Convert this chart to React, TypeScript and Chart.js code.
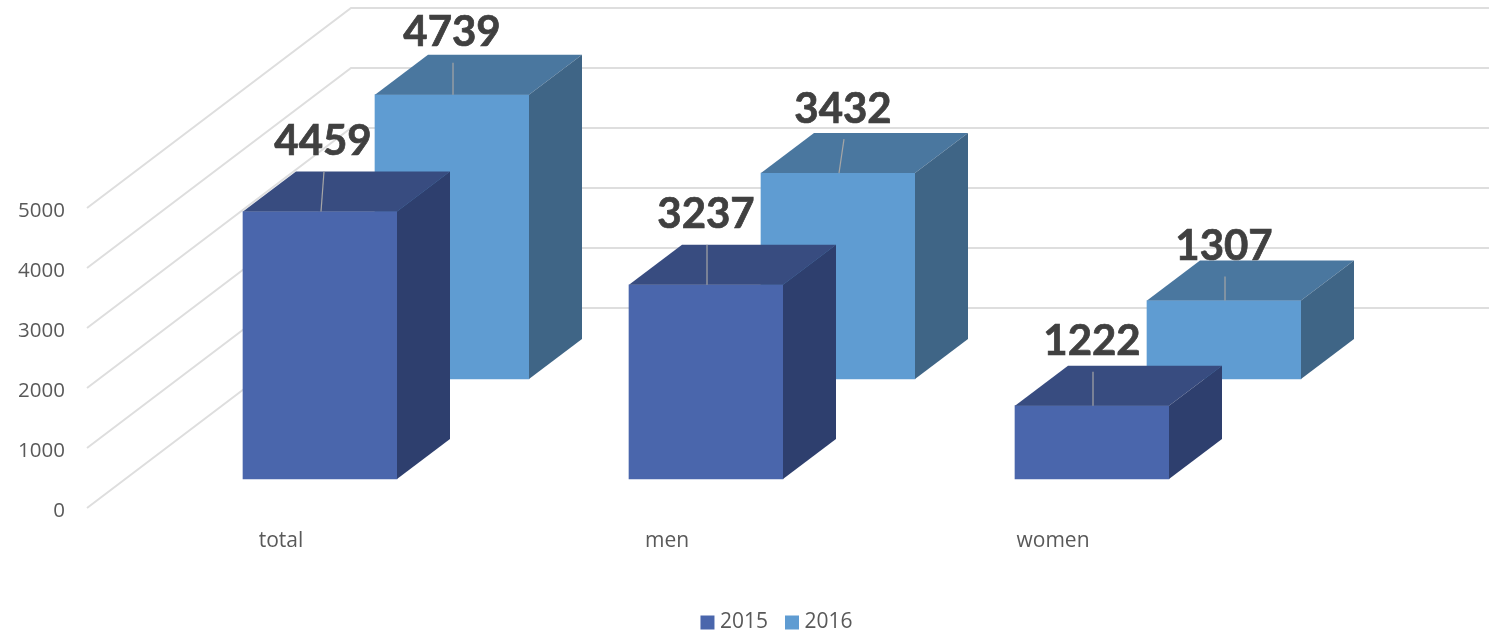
import React, { useEffect, useRef } from "react";
import { Chart, registerables } from "chart.js";

Chart.register(...registerables);

const categories = ["total", "men", "women"];
const series2015 = [4459, 3237, 1222];
const series2016 = [4739, 3432, 1307];
const yTicksMax = 5000;
const yTicksStep = 1000;

// Drawing style (not data)
const WIDTH = 1489;
const HEIGHT = 631;
const FONT_TEXT = '"Open Sans", sans-serif';
const FONT_VALUE = 'Lato, sans-serif';
const WALL = { dx: 264, dy: -200 };
const BAR_DEPTH = { dx: 53, dy: -40 };
const PLANE = [
  { dx: 39, dy: -29 },
  { dx: 171, dy: -129 },
];
const FACES = [
  { front: "#4A66AC", top: "#384C80", side: "#2E3F6E" },
  { front: "#5F9CD2", top: "#4A779F", side: "#3F6586" },
];
const LABEL_LIFT = [
  [70, 70, 64],
  [62, 64, 54],
];
const LABEL_SHIFT = [
  [3, 0, 0],
  [0, 5, 0],
];

const threeDee = {
  id: "threeDee",
  beforeDatasetsDraw(chart: any) {
    const { ctx, chartArea, scales } = chart;
    const y = scales.y;
    ctx.save();
    ctx.strokeStyle = "#DEDEDE";
    ctx.lineWidth = 2;
    y.ticks.forEach((t: any) => {
      const py = y.getPixelForValue(t.value);
      ctx.beginPath();
      ctx.moveTo(chartArea.left - 1, py);
      ctx.lineTo(chartArea.left - 1 + WALL.dx, py + WALL.dy);
      ctx.lineTo(WIDTH, py + WALL.dy);
      ctx.stroke();
    });
    ctx.restore();
  },
  beforeDatasetDraw(chart: any, args: any) {
    const p = PLANE[args.index];
    chart.ctx.save();
    chart.ctx.translate(p.dx, p.dy);
  },
  afterDatasetDraw(chart: any, args: any) {
    const { ctx } = chart;
    const f = FACES[args.index];
    args.meta.data.forEach((el: any) => {
      const l = el.x - el.width / 2;
      const r = el.x + el.width / 2;
      ctx.fillStyle = f.top;
      ctx.beginPath();
      ctx.moveTo(l, el.y);
      ctx.lineTo(l + BAR_DEPTH.dx, el.y + BAR_DEPTH.dy);
      ctx.lineTo(r + BAR_DEPTH.dx, el.y + BAR_DEPTH.dy);
      ctx.lineTo(r, el.y);
      ctx.closePath();
      ctx.fill();
      ctx.fillStyle = f.side;
      ctx.beginPath();
      ctx.moveTo(r, el.y);
      ctx.lineTo(r + BAR_DEPTH.dx, el.y + BAR_DEPTH.dy);
      ctx.lineTo(r + BAR_DEPTH.dx, el.base + BAR_DEPTH.dy);
      ctx.lineTo(r, el.base);
      ctx.closePath();
      ctx.fill();
    });
    ctx.restore();
  },
  afterDatasetsDraw(chart: any) {
    const { ctx } = chart;
    [0, 1].forEach((ds) => {
      const p = PLANE[ds];
      chart.getDatasetMeta(ds).data.forEach((el: any, i: number) => {
        const cx = el.x + p.dx;
        const topY = el.y + p.dy;
        const lx = cx + LABEL_SHIFT[ds][i];
        const ly = topY - LABEL_LIFT[ds][i];
        ctx.save();
        ctx.strokeStyle = "#A6A6A6";
        ctx.lineWidth = 1.2;
        ctx.beginPath();
        ctx.moveTo(lx + 1, ly + 30);
        ctx.lineTo(cx + 1, topY);
        ctx.stroke();
        ctx.fillStyle = "#404040";
        ctx.strokeStyle = "#404040";
        ctx.lineWidth = 0.7;
        ctx.font = `bold 42px ${FONT_VALUE}`;
        ctx.textAlign = "center";
        ctx.textBaseline = "middle";
        const text = String(chart.data.datasets[ds].data[i]);
        ctx.fillText(text, lx, ly);
        ctx.strokeText(text, lx, ly);
        ctx.restore();
      });
    });
  },
  afterLayout(chart: any) {
    const lg = chart.legend;
    if (!lg) return;
    const shift = 156;
    lg.left += shift;
    lg.right += shift;
    const h = lg.bottom - lg.top;
    lg.top = 590;
    lg.bottom = lg.top + h;
  },
};

export default function App() {
  const ref = useRef<HTMLCanvasElement>(null);
  useEffect(() => {
    document.body.style.margin = "0";
    const chart = new Chart(ref.current as HTMLCanvasElement, {
      type: "bar",
      plugins: [threeDee],
      data: {
        labels: categories,
        datasets: [
          { label: "2015", data: series2015, backgroundColor: FACES[0].front, barThickness: 154, grouped: false, clip: false },
          { label: "2016", data: series2016, backgroundColor: FACES[1].front, barThickness: 154, grouped: false, clip: false },
        ],
      } as any,
      options: {
        responsive: false,
        animation: false,
        layout: { padding: { top: 208, right: WIDTH - 1246, left: 0, bottom: 0 } },
        plugins: {
          tooltip: { enabled: false },
          legend: {
            position: "bottom",
            labels: {
              font: { family: FONT_TEXT, size: 21 },
              color: "#595959",
              usePointStyle: true,
              pointStyle: "rect",
              boxWidth: 4,
              boxHeight: 14,
              padding: 22,
            },
          },
        },
        scales: {
          x: {
            grid: { display: false },
            border: { display: false },
            ticks: { font: { family: FONT_TEXT, size: 21 }, color: "#595959", padding: 12, maxRotation: 0 },
            afterFit(scale: any) {
              const lh = scale.chart.legend ? scale.chart.legend.height : 42;
              scale.height = HEIGHT - 508 - lh;
            },
          },
          y: {
            min: 0,
            max: yTicksMax,
            grid: { display: false },
            border: { display: false },
            ticks: {
              stepSize: yTicksStep,
              font: { family: FONT_TEXT, size: 20.5 },
              color: "#595959",
              padding: 15,
              labelOffset: 3,
              callback: (v: any) => String(v),
            },
            afterFit(scale: any) {
              scale.width = 88;
            },
          },
        },
      } as any,
    });
    return () => chart.destroy();
  }, []);
  return <canvas ref={ref} width={WIDTH} height={HEIGHT} style={{ display: "block" }} />;
}
